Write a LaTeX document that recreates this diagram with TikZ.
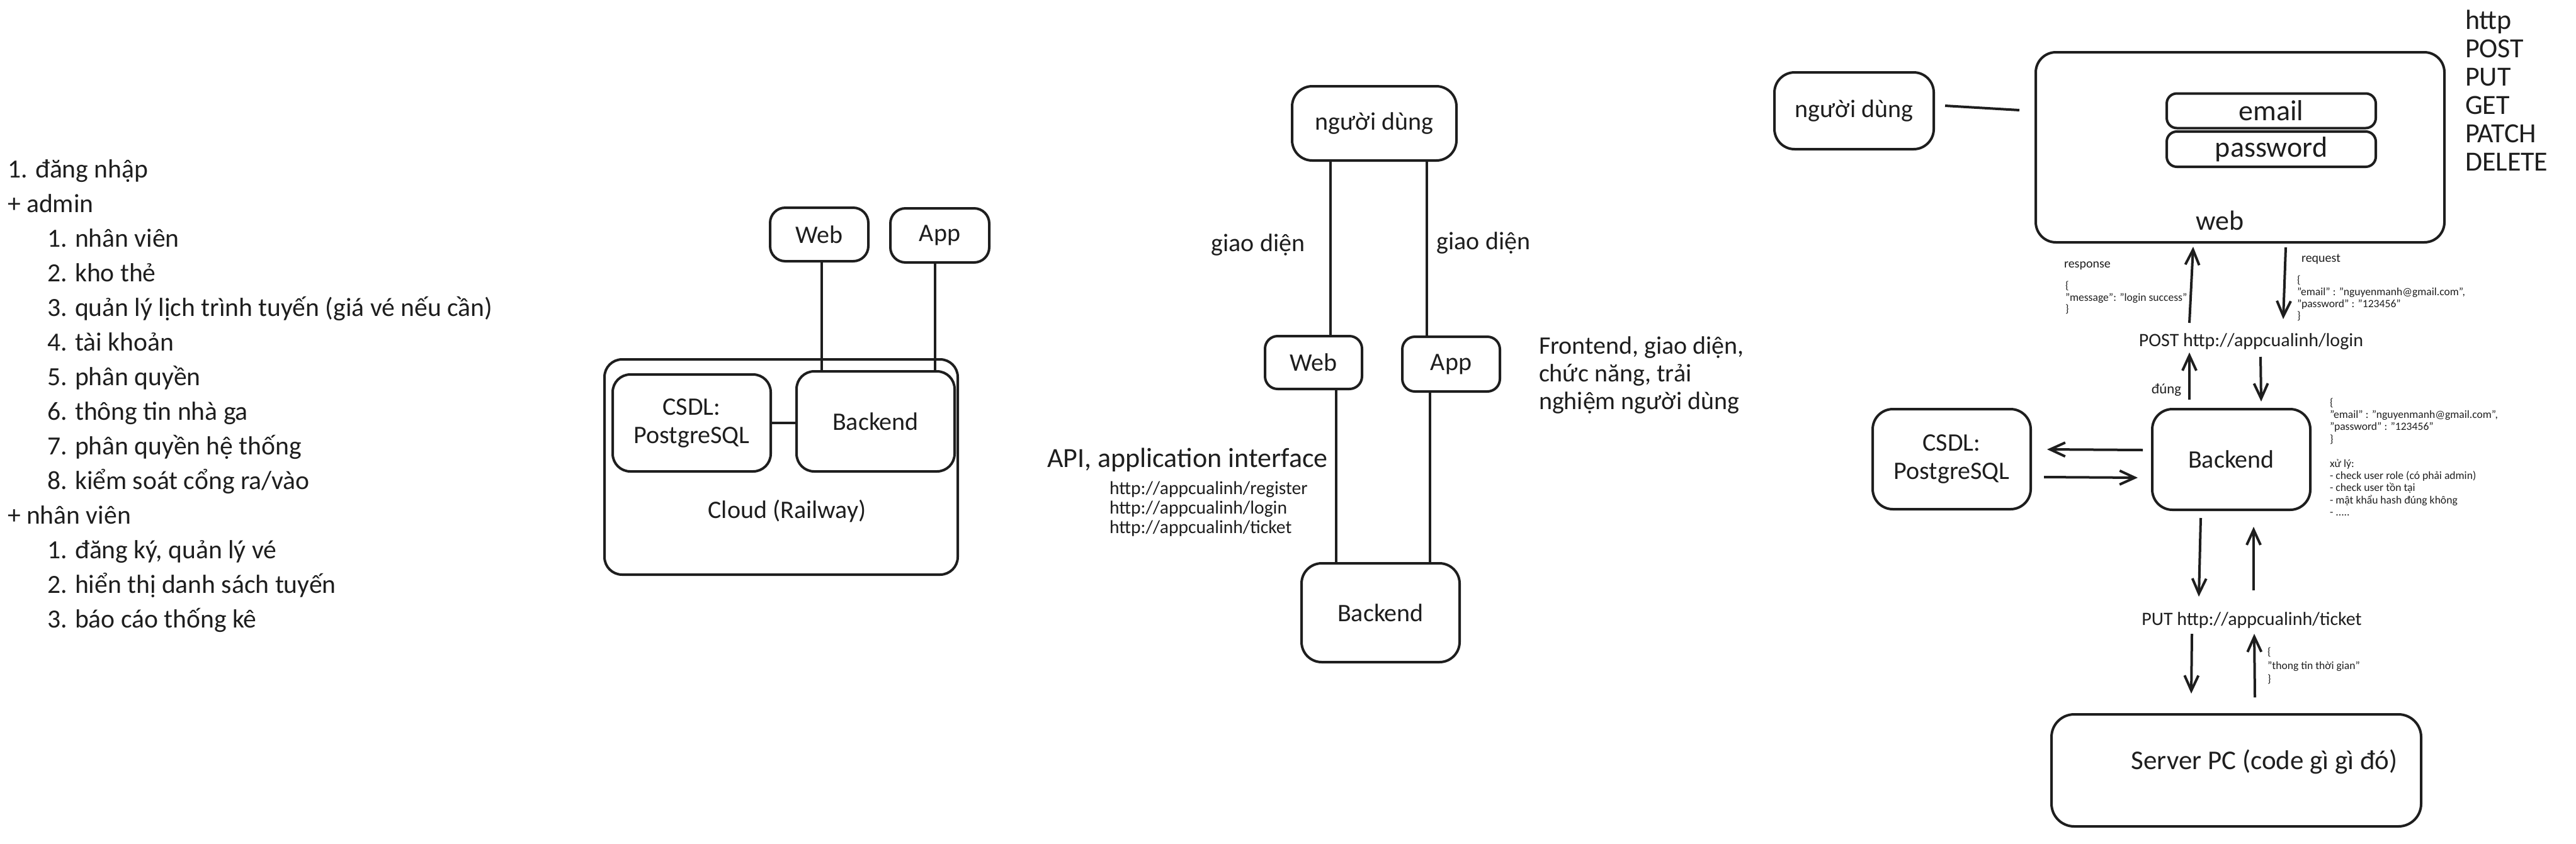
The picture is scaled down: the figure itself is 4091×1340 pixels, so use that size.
\documentclass[tikz,border=0pt]{standalone}
\usepackage{fontspec}
\setmainfont{Carlito}
\usetikzlibrary{arrows.meta}
\definecolor{ink}{RGB}{30,30,30}
\begin{document}
\begin{tikzpicture}[x=0.25pt,y=-0.25pt,line width=1pt,
  bx/.style={draw=ink,line width=1pt,rounded corners=7pt,inner sep=0pt,align=center,text=ink},
  lbl/.style={font=\fontsize{10}{11.25}\selectfont,inner sep=0pt,text=ink},
  lst/.style={font=\fontsize{10.4}{12}\selectfont,inner sep=0pt,anchor=base west,text=ink},
  sm/.style={font=\fontsize{4.4}{4.75}\selectfont,inner sep=0pt,align=left,anchor=west,text=ink},
  ln/.style={draw=ink,line width=1pt},
  arr/.style={draw=ink,line width=1pt,-{Straight Barb[length=6pt,width=5.5pt]}}]
\useasboundingbox (0,0) rectangle (4091,1340);

% ---------------- left list ----------------
\node[lst] (l0) at (10,282) {1. đăng nhập};
\node[lst] (l1) at (10,337) {+ admin};
\node[lst] (l2) at (73,392) {1. nhân viên};
\node[lst] (l3) at (73,447) {2. kho thẻ};
\node[lst] (l4) at (73,502) {3. quản lý lịch trình tuyến (giá vé nếu cần)};
\node[lst] (l5) at (73,557) {4. tài khoản};
\node[lst] (l6) at (73,612) {5. phân quyền};
\node[lst] (l7) at (73,667) {6. thông tin nhà ga};
\node[lst] (l8) at (73,722) {7. phân quyền hệ thống};
\node[lst] (l9) at (73,777) {8. kiểm soát cổng ra/vào};
\node[lst] (l10) at (10,832) {+ nhân viên};
\node[lst] (l11) at (73,887) {1. đăng ký, quản lý vé};
\node[lst] (l12) at (73,942) {2. hiển thị danh sách tuyến};
\node[lst] (l13) at (73,997) {3. báo cáo thống kê};

% ---------------- cloud group ----------------
\node[bx,minimum width=140.25pt,minimum height=85.5pt] (ccloud) at (1240.5,742) {};
\node[lbl] (ccloudt) at (1250,812) {Cloud (Railway)};
\node[bx,lbl,rounded corners=6pt,minimum width=39pt,minimum height=21.25pt] (cweb) at (1301,372.5) {Web};
\node[bx,lbl,rounded corners=6pt,minimum width=39.25pt,minimum height=21.5pt] (capp) at (1492.5,374) {App};
\node[bx,lbl,align=center,minimum width=62.75pt,minimum height=38.5pt] (ccsdl) at (1098.5,672) {CSDL:\\PostgreSQL};
\node[bx,lbl,minimum width=62.75pt,minimum height=39.75pt] (cback) at (1390.5,669.5) {Backend};
\draw[ln] ([xshift=1pt]cweb.south) -- ([xshift=1pt]cweb.south |- cback.north);
\draw[ln] ([xshift=-2pt]capp.south) -- ([xshift=-2pt]capp.south |- cback.north);
\draw[ln] (ccsdl.east) -- (ccsdl.east -| cback.west);

% ---------------- middle group ----------------
\node[bx,lbl,rounded corners=8pt,minimum width=65.25pt,minimum height=29.5pt] (mnd) at (2182.5,196) {người dùng};
\node[bx,lbl,rounded corners=5pt,minimum width=38.5pt,minimum height=21pt] (mweb) at (2086,576) {Web};
\node[bx,lbl,rounded corners=5pt,minimum width=38.75pt,minimum height=21.75pt] (mapp) at (2304.5,578.5) {App};
\node[bx,lbl,rounded corners=8pt,minimum width=62.75pt,minimum height=39.25pt] (mback) at (2192.5,973.5) {Backend};
\draw[ln] ([xshift=-17.4pt]mnd.south) -- ([xshift=-17.4pt]mnd.south |- mweb.north);
\draw[ln] ([xshift=20.9pt]mnd.south) -- ([xshift=20.9pt]mnd.south |- mapp.north);
\draw[ln] ([xshift=9pt]mweb.south) -- ([xshift=9pt]mweb.south |- mback.north);
\draw[ln] ([xshift=-8.4pt]mapp.south) -- ([xshift=-8.4pt]mapp.south |- mback.north);
\node[lbl] (mgd1) at (1998,389) {giao diện};
\node[lbl] (mgd2) at (2356,386) {giao diện};
\node[lbl,font=\fontsize{10}{11}\selectfont,anchor=west,align=left] (mfe) at (2442,596) {Frontend, giao diện,\\chức năng, trải\\nghiệm người dùng};
\node[lbl,font=\fontsize{11}{13}\selectfont,anchor=west] (mapi) at (1661,731) {API, application interface};
\node[lbl,font=\fontsize{7.4}{7.75}\selectfont,anchor=west,align=left] (murl) at (1760,809) {http://appcualinh/register\\http://appcualinh/login\\http://appcualinh/ticket};

% ---------------- right group ----------------
\node[bx,lbl,rounded corners=8pt,minimum width=63.25pt,minimum height=30.5pt] (rnd) at (2944.5,176) {người dùng};
\node[bx,rounded corners=8pt,minimum width=162.25pt,minimum height=75.5pt] (rweb) at (3557.5,234) {};
\node[bx,lbl,font=\fontsize{11.5}{13}\selectfont,rounded corners=4pt,minimum width=83pt,minimum height=13.75pt] (remail) at (3607,176) {email};
\node[bx,lbl,font=\fontsize{11.5}{13}\selectfont,rounded corners=4pt,minimum width=83pt,minimum height=14pt] (rpass) at (3607,237) {password};
\node[lbl,font=\fontsize{11}{12}\selectfont] (rwebt) at (3525,350) {web};
\node[lbl,font=\fontsize{11}{11.25}\selectfont,anchor=west,align=left] (rhttp) at (3913,143.5) {http\\POST\\PUT\\GET\\PATCH\\DELETE};
\coordinate (u1) at (3089,168);
\coordinate (u2) at (3207,175);
\draw[ln] (u1) -- (u2);

\node[sm,font=\fontsize{5}{5.5}\selectfont] (rresp) at (3276,422) {response};
\node[sm,font=\fontsize{4.4}{4.65}\selectfont] (rrespj) at (3278,473) {\{\\"message": "login success"\\\}};
\node[sm,font=\fontsize{5}{5.5}\selectfont] (rreq) at (3653,412) {request};
\node[sm] (rreqj) at (3646,474) {\{\\"email" : "nguyenmanh@gmail.com",\\"password" : "123456"\\\}};

\coordinate (a1s) at (3477,513); \coordinate (a1e) at (3483,392);
\coordinate (a2s) at (3630,393); \coordinate (a2e) at (3626,507);
\draw[arr] (a1s) -- (a1e);
\draw[arr] (a2s) -- (a2e);

\node[lbl,font=\fontsize{7.5}{8}\selectfont] (rpost) at (3575,543) {POST http://appcualinh/login};
\coordinate (a3s) at (3477,635); \coordinate (a3e) at (3477,560);
\coordinate (a4s) at (3590,567); \coordinate (a4e) at (3591,638);
\draw[arr] (a3s) -- (a3e);
\draw[arr] (a4s) -- (a4e);
\node[lbl,font=\fontsize{5.7}{6}\selectfont,anchor=east] (rdung) at (3466,620) {đúng};

\node[bx,lbl,rounded corners=8pt,minimum width=62.75pt,minimum height=40pt] (rback) at (3543.5,730) {Backend};
\node[bx,lbl,align=center,rounded corners=8pt,minimum width=62.75pt,minimum height=39.75pt] (rcsdl) at (3099.5,729.5) {CSDL:\\PostgreSQL};
\coordinate (a5s) at (3403,715); \coordinate (a5e) at (3251,714);
\coordinate (a6s) at (3246,758); \coordinate (a6e) at (3395,759);
\draw[arr] (a5s) -- (a5e);
\draw[arr] (a6s) -- (a6e);

\node[sm,font=\fontsize{4.4}{4.85}\selectfont] (rproc) at (3698,726) {\{\\"email" : "nguyenmanh@gmail.com",\\"password" : "123456"\\\}\\[4.85pt]xử lý:\\- check user role (có phải admin)\\- check user tồn tại\\- mật khẩu hash đúng không\\- .....};

\coordinate (a7s) at (3495,823); \coordinate (a7e) at (3492,948);
\coordinate (a8s) at (3579,938); \coordinate (a8e) at (3579,837);
\draw[arr] (a7s) -- (a7e);
\draw[arr] (a8s) -- (a8e);
\node[lbl,font=\fontsize{7.5}{8}\selectfont] (rput) at (3576,985) {PUT http://appcualinh/ticket};
\coordinate (a9s) at (3481,1007); \coordinate (a9e) at (3480,1102);
\coordinate (a10s) at (3581,1108); \coordinate (a10e) at (3580,1007);
\draw[arr] (a9s) -- (a9e);
\draw[arr] (a10s) -- (a10e);
\node[sm,font=\fontsize{4.4}{5.4}\selectfont] (rtime) at (3599,1058) {\{\\"thong tin thời gian"\\\}};

\node[bx,rounded corners=9pt,minimum width=146.75pt,minimum height=44.5pt] (rserver) at (3551.5,1224) {};
\node[lbl,font=\fontsize{10.75}{12}\selectfont] (rservert) at (3596,1210) {Server PC (code gì gì đó)};
\end{tikzpicture}
\end{document}
